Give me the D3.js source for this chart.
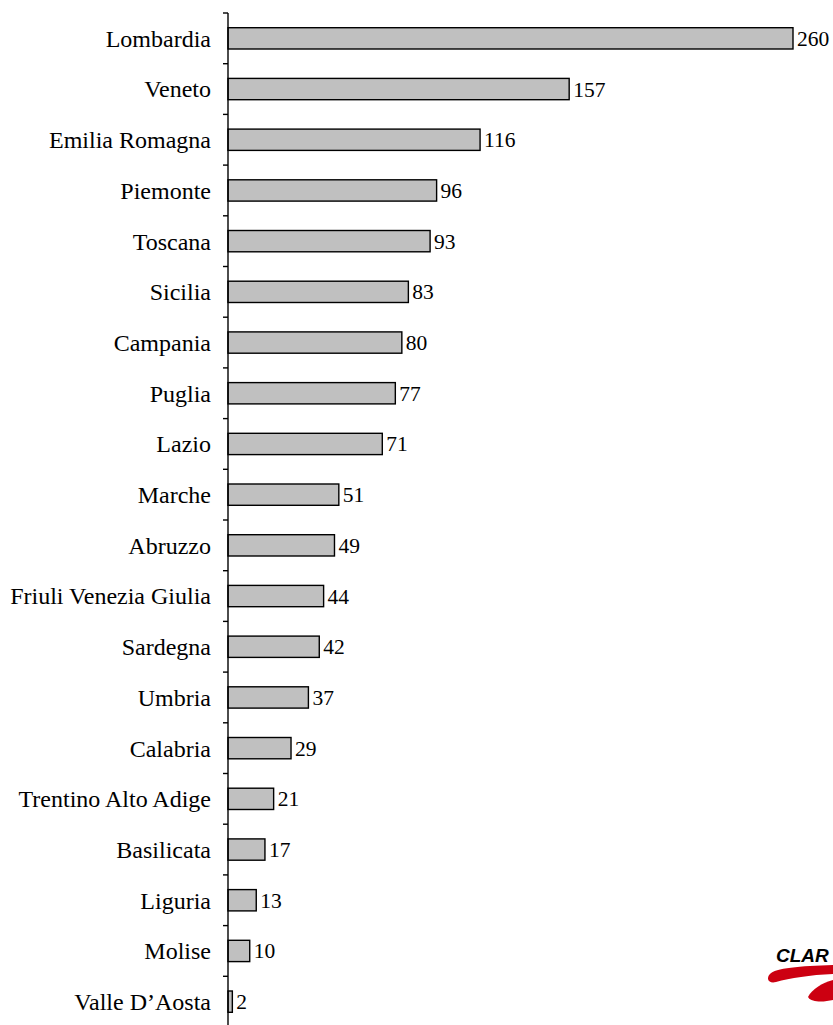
<!DOCTYPE html>
<html>
<head>
<meta charset="utf-8">
<script src="https://cdn.jsdelivr.net/npm/d3@7"></script>
<style>
  body { margin: 0; background: #fff; }
  svg text { font-family: "Liberation Serif", serif; }
</style>
</head>
<body>
<div id="chart"></div>
<script>
var regions = ["Lombardia", "Veneto", "Emilia Romagna", "Piemonte", "Toscana", "Sicilia",
    "Campania", "Puglia", "Lazio", "Marche", "Abruzzo", "Friuli Venezia Giulia", "Sardegna",
    "Umbria", "Calabria", "Trentino Alto Adige", "Basilicata", "Liguria", "Molise", "Valle D\u2019Aosta"];
var counts = [260, 157, 116, 96, 93, 83, 80, 77, 71, 51, 49, 44, 42, 37, 29, 21, 17, 13, 10, 2];

function init() {
    var w = 833;
    var h = 1025;
    var axisX = 228;
    var top = 13;
    var step = 50.7;

    var dataset = regions.map(function(r, i) { return { name: r, value: counts[i] }; });

    var svg = d3.select("#chart")
        .append("svg")
        .attr("width", w)
        .attr("height", h);

    var xScale = d3.scaleLinear()
        .domain([0, 260])
        .range([axisX, 793]);

    var yScale = d3.scaleBand()
        .domain(regions)
        .range([top, top + step * regions.length])
        .paddingInner(0.58)
        .paddingOuter(0.29);

    // Bars
    svg.selectAll("rect.bar")
        .data(dataset)
        .enter()
        .append("rect")
        .attr("class", "bar")
        .attr("x", xScale(0))
        .attr("y", function(d) { return yScale(d.name); })
        .attr("width", function(d) { return xScale(d.value) - xScale(0); })
        .attr("height", yScale.bandwidth())
        .attr("fill", "#c0c0c0")
        .attr("stroke", "#000")
        .attr("stroke-width", 1.4);

    // Value labels
    svg.selectAll("text.val")
        .data(dataset)
        .enter()
        .append("text")
        .attr("class", "val")
        .attr("x", function(d) { return xScale(d.value) + 4; })
        .attr("y", function(d) { return yScale(d.name) + yScale.bandwidth() / 2; })
        .attr("dy", "0.35em")
        .attr("font-size", "21.5px")
        .attr("fill", "#000")
        .text(function(d) { return d.value; });

    // Category axis: ticks sit between bars
    var axis = svg.append("g");
    axis.append("line")
        .attr("x1", axisX).attr("x2", axisX)
        .attr("y1", top).attr("y2", h)
        .attr("stroke", "#000")
        .attr("stroke-width", 1.4);

    var bounds = d3.range(regions.length + 1).map(function(i) { return top + i * step; });
    axis.selectAll("line.tick")
        .data(bounds)
        .enter()
        .append("line")
        .attr("class", "tick")
        .attr("x1", axisX - 5).attr("x2", axisX)
        .attr("y1", function(d) { return d; })
        .attr("y2", function(d) { return d; })
        .attr("stroke", "#000")
        .attr("stroke-width", 1.4);

    axis.selectAll("text.cat")
        .data(dataset)
        .enter()
        .append("text")
        .attr("class", "cat")
        .attr("x", axisX - 17)
        .attr("y", function(d) { return yScale(d.name) + yScale.bandwidth() / 2; })
        .attr("dy", "0.35em")
        .attr("text-anchor", "end")
        .attr("font-size", "24px")
        .attr("fill", "#000")
        .text(function(d) { return d.name; });

    // Logo, cut off at the right edge
    var logo = svg.append("g");
    logo.append("text")
        .attr("x", 776)
        .attr("y", 962)
        .style("font-family", "'Liberation Sans', Arial, sans-serif")
        .style("font-weight", "bold")
        .style("font-style", "italic")
        .style("font-size", "19px")
        .attr("fill", "#000")
        .text("CLAR");
    logo.append("path")
        .attr("d", "M770,974 C775,968 800,966 833,965 L833,974 C810,975 790,978 776,982 C768,984 766,978 770,974 Z")
        .attr("fill", "#cc0011");
    logo.append("path")
        .attr("d", "M808,997 C812,989 822,983 833,980 L833,1000 C824,1002 812,1003 808,997 Z")
        .attr("fill", "#cc0011");
}

window.onload = init;
</script>
</body>
</html>
